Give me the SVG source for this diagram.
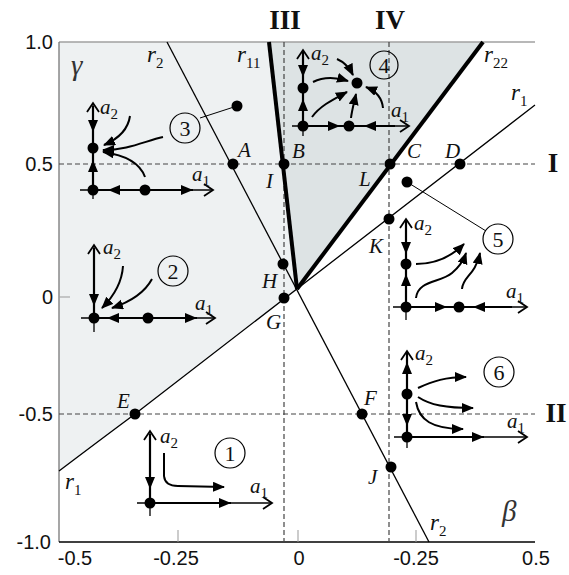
<svg xmlns="http://www.w3.org/2000/svg" width="569" height="575" viewBox="0 0 569 575">
<style>
.tick{font-family:"Liberation Sans",Arial,sans-serif;font-size:20px;fill:#111}
.lbl{font-family:"Liberation Serif","Times New Roman",serif;font-style:italic;font-size:21px;fill:#111}
.rl{font-family:"Liberation Serif","Times New Roman",serif;font-style:italic;font-size:23px;fill:#111}
.big{font-family:"Liberation Serif","Times New Roman",serif;font-style:italic;font-size:29px;fill:#333}
.num{font-family:"Liberation Serif","Times New Roman",serif;font-weight:bold;font-size:27px;fill:#111;text-anchor:middle}
.sub{font-style:normal;font-size:15px}
.cn{font-family:"Liberation Serif","Times New Roman",serif;font-size:22px;text-anchor:middle;fill:#111}
.ax{stroke:#000;stroke-width:1.3;fill:none}
.tr{stroke:#000;stroke-width:2.2;fill:none}
.cv{stroke:#000;stroke-width:2;fill:none;marker-end:url(#ah)}
.dash{stroke:#444;stroke-width:1.2;stroke-dasharray:5 3;fill:none}
.ring{fill:none;stroke:#000;stroke-width:1.2}
</style>
<defs>
<marker id="ah" markerUnits="userSpaceOnUse" markerWidth="14" markerHeight="12" refX="11" refY="5" orient="auto"><path d="M0,0 L12,5 L0,10 Z" fill="#000"/></marker>
<path id="tri" d="M0,0 L-12,-5 L-12,5 Z" fill="#000"/>
<path id="chev" d="M-9,-6 L0,0 L-9,6" fill="none" stroke="#000" stroke-width="1.8"/>
<circle id="dot" r="5.5" fill="#000"/>
</defs>

<g id="regions">
<path d="M59,42 L269,42 L297,289 L135,414 Q100,440 59,471 Z" fill="#eef1f2"/>
<path d="M269,42 L483,42 L297,289 Z" fill="#dde3e4"/>
</g>

<g id="axes">
<line x1="59" y1="42" x2="535" y2="42" stroke="#a0a0a0" stroke-width="1.5"/>
<line x1="59" y1="42" x2="59" y2="542" stroke="#777" stroke-width="1.3"/>
<line x1="59" y1="542" x2="535" y2="542" stroke="#000" stroke-width="1.5"/>
<g stroke="#999" stroke-width="1">
<line x1="178" y1="530" x2="178" y2="542"/>
<line x1="298" y1="530" x2="298" y2="542"/>
<line x1="416" y1="530" x2="416" y2="542"/>
<line x1="59" y1="297" x2="70" y2="297"/>
</g>
<text class="tick" x="53" y="49" text-anchor="end">1.0</text>
<text class="tick" x="53" y="171" text-anchor="end">0.5</text>
<text class="tick" x="53" y="304" text-anchor="end">0</text>
<text class="tick" x="53" y="421" text-anchor="end">-0.5</text>
<text class="tick" x="51" y="549" text-anchor="end">-1.0</text>
<text class="tick" x="75" y="565" text-anchor="middle">-0.5</text>
<text class="tick" x="176" y="565" text-anchor="middle">-0.25</text>
<text class="tick" x="299" y="565" text-anchor="middle">0</text>
<text class="tick" x="416" y="565" text-anchor="middle">-0.25</text>
<text class="tick" x="536" y="565" text-anchor="middle">0.5</text>
<text class="big" x="71" y="75">γ</text>
<text class="big" x="502" y="521">β</text>
<text class="num" x="285" y="29">III</text>
<text class="num" x="390" y="29">IV</text>
<text class="num" x="553" y="172">I</text>
<text class="num" x="556" y="422">II</text>
</g>

<g id="connectors">
<line class="dash" x1="59" y1="164" x2="535" y2="164"/>
<line class="dash" x1="59" y1="414" x2="535" y2="414"/>
<line class="dash" x1="284" y1="42" x2="284" y2="542"/>
<line class="dash" x1="389" y1="42" x2="389" y2="542"/>
<path d="M535,105 L135,414 Q100,440 59,471" stroke="#000" stroke-width="1.3" fill="none"/>
<line x1="167" y1="42" x2="429" y2="542" stroke="#000" stroke-width="1.3"/>
<line x1="269" y1="42" x2="297" y2="289" stroke="#000" stroke-width="4"/>
<line x1="297" y1="289" x2="483" y2="42" stroke="#000" stroke-width="4"/>
<line x1="200" y1="118" x2="237" y2="106" stroke="#000" stroke-width="1"/>
<line x1="407" y1="182" x2="486" y2="231" stroke="#000" stroke-width="1"/>
<text class="rl" x="147" y="62">r<tspan class="sub" dy="6">2</tspan></text>
<text class="rl" x="237" y="62">r<tspan class="sub" dy="6">11</tspan></text>
<text class="rl" x="484" y="62">r<tspan class="sub" dy="6">22</tspan></text>
<text class="rl" x="511" y="100">r<tspan class="sub" dy="6">1</tspan></text>
<text class="rl" x="65" y="489">r<tspan class="sub" dy="6">1</tspan></text>
<text class="rl" x="430" y="530">r<tspan class="sub" dy="6">2</tspan></text>
</g>

<g id="pA"><use href="#dot" x="233" y="164"/><text class="lbl" x="238" y="157">A</text></g>
<g id="pBI"><use href="#dot" x="284" y="164"/><text class="lbl" x="292" y="158">B</text><text class="lbl" x="266" y="188">I</text></g>
<g id="pCL"><use href="#dot" x="390" y="164"/><text class="lbl" x="407" y="158">C</text><text class="lbl" x="359" y="186">L</text></g>
<g id="pD"><use href="#dot" x="460" y="164"/><text class="lbl" x="445" y="158">D</text></g>
<g id="pH"><use href="#dot" x="283" y="264"/><text class="lbl" x="262" y="288">H</text></g>
<g id="pG"><use href="#dot" x="284" y="298"/><text class="lbl" x="266" y="329">G</text></g>
<g id="pK"><use href="#dot" x="389" y="219"/><text class="lbl" x="369" y="253">K</text></g>
<g id="pE"><use href="#dot" x="135" y="414"/><text class="lbl" x="117" y="408">E</text></g>
<g id="pF"><use href="#dot" x="362" y="414"/><text class="lbl" x="364" y="405">F</text></g>
<g id="pJ"><use href="#dot" x="391" y="467"/><text class="lbl" x="368" y="484">J</text></g>
<g id="p3"><use href="#dot" x="237" y="106"/></g>
<g id="p5"><use href="#dot" x="407" y="182"/></g>

<g id="inset3">
<line class="ax" x1="93" y1="199" x2="93" y2="104"/><use href="#chev" transform="translate(93,103) rotate(-90)"/>
<line class="ax" x1="80" y1="190" x2="213" y2="190"/><use href="#chev" transform="translate(213,190)"/>
<line class="tr" x1="93" y1="106" x2="93" y2="190"/>
<line class="tr" x1="93" y1="190" x2="193" y2="190"/>
<use href="#tri" transform="translate(93,132) rotate(90)"/>
<use href="#tri" transform="translate(93,160) rotate(-90)"/>
<use href="#tri" transform="translate(108,190) rotate(180)"/>
<use href="#tri" transform="translate(193,190)"/>
<use href="#dot" x="93" y="190"/><use href="#dot" x="145" y="190"/><use href="#dot" x="93" y="148"/>
<path class="cv" d="M130,116 C128,130 118,139 104,145"/>
<path class="cv" d="M163,137 C145,141 128,150 103,150"/>
<path class="cv" d="M145,177 C140,163 125,155 103,152"/>
<text class="lbl" x="100" y="114">a<tspan class="sub" dy="5">2</tspan></text>
<text class="lbl" x="192" y="181">a<tspan class="sub" dy="5">1</tspan></text>
<circle class="ring" cx="185" cy="128" r="15"/><text class="cn" x="185" y="136">3</text>
</g>

<g id="inset2">
<line class="ax" x1="94" y1="332" x2="94" y2="246"/><use href="#chev" transform="translate(94,245) rotate(-90)"/>
<line class="ax" x1="81" y1="318" x2="215" y2="318"/><use href="#chev" transform="translate(215,318)"/>
<line class="tr" x1="94" y1="248" x2="94" y2="318"/>
<line class="tr" x1="94" y1="318" x2="197" y2="318"/>
<use href="#tri" transform="translate(94,306) rotate(90)"/>
<use href="#tri" transform="translate(107,318) rotate(180)"/>
<use href="#tri" transform="translate(197,318)"/>
<use href="#dot" x="94" y="318"/><use href="#dot" x="148" y="318"/>
<path class="cv" d="M123,266 C122,282 114,296 102,308"/>
<path class="cv" d="M152,279 C145,292 130,302 112,308"/>
<text class="lbl" x="103" y="254">a<tspan class="sub" dy="5">2</tspan></text>
<text class="lbl" x="195" y="310">a<tspan class="sub" dy="5">1</tspan></text>
<circle class="ring" cx="173" cy="271" r="15"/><text class="cn" x="173" y="279">2</text>
</g>

<g id="inset1">
<line class="ax" x1="150" y1="516" x2="150" y2="432"/><use href="#chev" transform="translate(150,431) rotate(-90)"/>
<line class="ax" x1="137" y1="503" x2="272" y2="503"/><use href="#chev" transform="translate(272,503)"/>
<line class="tr" x1="150" y1="434" x2="150" y2="503"/>
<line class="tr" x1="150" y1="503" x2="231" y2="503"/>
<use href="#tri" transform="translate(150,489) rotate(90)"/>
<use href="#tri" transform="translate(231,503)"/>
<use href="#dot" x="150" y="503"/>
<path class="cv" d="M164,453 L164,476 Q165,486 178,486 L224,487"/>
<text class="lbl" x="160" y="443">a<tspan class="sub" dy="5">2</tspan></text>
<text class="lbl" x="250" y="493">a<tspan class="sub" dy="5">1</tspan></text>
<circle class="ring" cx="230" cy="453" r="15"/><text class="cn" x="230" y="461">1</text>
</g>

<g id="inset4">
<line class="ax" x1="303" y1="136" x2="303" y2="51"/><use href="#chev" transform="translate(303,50) rotate(-90)"/>
<line class="ax" x1="292" y1="126" x2="409" y2="126"/><use href="#chev" transform="translate(409,126)"/>
<line class="tr" x1="303" y1="52" x2="303" y2="126"/>
<line class="tr" x1="303" y1="126" x2="395" y2="126"/>
<use href="#tri" transform="translate(303,77) rotate(90)"/>
<use href="#tri" transform="translate(303,99) rotate(-90)"/>
<use href="#tri" transform="translate(340,126)"/>
<use href="#tri" transform="translate(364,126) rotate(180)"/>
<use href="#dot" x="303" y="126"/><use href="#dot" x="303" y="88"/><use href="#dot" x="349" y="126"/><use href="#dot" x="357" y="83"/>
<path class="cv" d="M313,82 C323,77 335,77 348,81"/>
<path class="cv" d="M312,117 C320,106 332,100 347,92"/>
<path class="cv" d="M351,118 C352,110 354,103 356,94"/>
<path class="cv" d="M383,108 C382,98 376,91 366,87"/>
<path class="cv" d="M337,59 C344,62 349,67 353,75"/>
<text class="lbl" x="311" y="60">a<tspan class="sub" dy="5">2</tspan></text>
<text class="lbl" x="391" y="117">a<tspan class="sub" dy="5">1</tspan></text>
<circle class="ring" cx="384" cy="65" r="14"/><text class="cn" x="384" y="73">4</text>
</g>

<g id="inset5">
<line class="ax" x1="406" y1="320" x2="406" y2="220"/><use href="#chev" transform="translate(406,219) rotate(-90)"/>
<line class="ax" x1="393" y1="307" x2="527" y2="307"/><use href="#chev" transform="translate(527,307)"/>
<line class="tr" x1="406" y1="221" x2="406" y2="307"/>
<line class="tr" x1="406" y1="307" x2="459" y2="307"/>
<line class="tr" x1="459" y1="307" x2="512" y2="307"/>
<use href="#tri" transform="translate(406,254) rotate(90)"/>
<use href="#tri" transform="translate(406,274) rotate(-90)"/>
<use href="#tri" transform="translate(447,307)"/>
<use href="#tri" transform="translate(473,307) rotate(180)"/>
<use href="#dot" x="406" y="307"/><use href="#dot" x="406" y="264"/><use href="#dot" x="459" y="307"/>
<path class="cv" d="M416,264 C435,264 450,258 464,244"/>
<path class="cv" d="M416,298 C418,280 440,283 452,273 C458,268 463,262 466,253"/>
<path class="cv" d="M462,289 C463,276 475,276 480,253"/>
<text class="lbl" x="414" y="230">a<tspan class="sub" dy="5">2</tspan></text>
<text class="lbl" x="506" y="298">a<tspan class="sub" dy="5">1</tspan></text>
<circle class="ring" cx="498" cy="239" r="15"/><text class="cn" x="498" y="247">5</text>
</g>

<g id="inset6">
<line class="ax" x1="407" y1="448" x2="407" y2="352"/><use href="#chev" transform="translate(407,351) rotate(-90)"/>
<line class="ax" x1="394" y1="437" x2="527" y2="437"/><use href="#chev" transform="translate(527,437)"/>
<line class="tr" x1="407" y1="353" x2="407" y2="437"/>
<line class="tr" x1="407" y1="437" x2="484" y2="437"/>
<use href="#tri" transform="translate(407,362) rotate(-90)"/>
<use href="#tri" transform="translate(407,426) rotate(90)"/>
<use href="#tri" transform="translate(484,437)"/>
<use href="#dot" x="407" y="394"/><use href="#dot" x="407" y="437"/>
<path class="cv" d="M418,388 C433,381 446,377 466,377"/>
<path class="cv" d="M418,397 C430,405 446,408 473,408"/>
<path class="cv" d="M416,402 C419,420 432,429 463,429"/>
<text class="lbl" x="415" y="360">a<tspan class="sub" dy="5">2</tspan></text>
<text class="lbl" x="507" y="428">a<tspan class="sub" dy="5">1</tspan></text>
<circle class="ring" cx="499" cy="372" r="15"/><text class="cn" x="499" y="380">6</text>
</g>
</svg>
